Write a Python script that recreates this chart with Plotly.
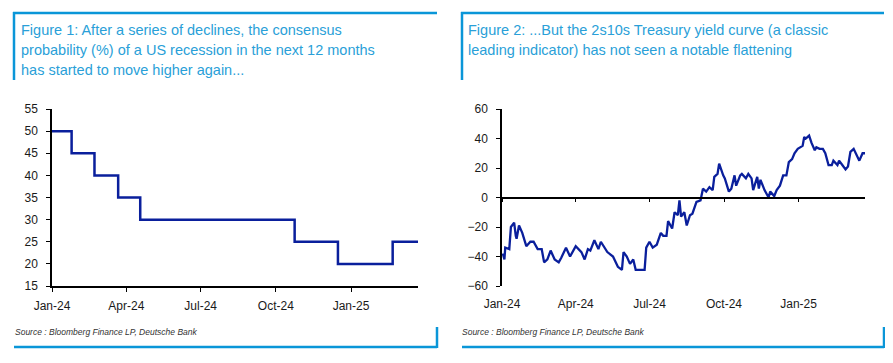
import plotly.graph_objects as go

# Page body has an 8px default margin; the figure is sized/placed to fill the 893x363 window
PAGE_W, PAGE_H, BODY_M = 893, 363, 8
W, H = PAGE_W - BODY_M, PAGE_H - BODY_M

# ---------------- Data ----------------
# Figure 1: consensus probability of US recession (%), step changes
prob_dates = ["2024-01-01", "2024-01-25", "2024-02-22", "2024-03-22", "2024-04-18",
              "2024-10-24", "2024-12-16", "2025-02-21", "2025-03-24"]
prob_values = [50, 45, 40, 35, 30, 25, 20, 25, 25]

# Figure 2: 2s10s Treasury yield curve (bp)
curve_dates = [
    "2024-01-02", "2024-01-04", "2024-01-05", "2024-01-10", "2024-01-12", "2024-01-16",
    "2024-01-18", "2024-01-19", "2024-01-22", "2024-01-26", "2024-01-31", "2024-02-05",
    "2024-02-09", "2024-02-14", "2024-02-19", "2024-02-22", "2024-02-26", "2024-03-01",
    "2024-03-06", "2024-03-11", "2024-03-14", "2024-03-20", "2024-03-25", "2024-03-28",
    "2024-04-01", "2024-04-08", "2024-04-12", "2024-04-16", "2024-04-19", "2024-04-24",
    "2024-04-29", "2024-05-02", "2024-05-07", "2024-05-10", "2024-05-17", "2024-05-23",
    "2024-05-28", "2024-05-30", "2024-06-03", "2024-06-07", "2024-06-11", "2024-06-14",
    "2024-06-21", "2024-06-25", "2024-06-27", "2024-07-01", "2024-07-05", "2024-07-10",
    "2024-07-15", "2024-07-18", "2024-07-22", "2024-07-24", "2024-07-29", "2024-08-01",
    "2024-08-05", "2024-08-07", "2024-08-09", "2024-08-13", "2024-08-16", "2024-08-20",
    "2024-08-23", "2024-08-28", "2024-09-02", "2024-09-05", "2024-09-09", "2024-09-13",
    "2024-09-17", "2024-09-19", "2024-09-23", "2024-09-25", "2024-09-30", "2024-10-02",
    "2024-10-07", "2024-10-10", "2024-10-14", "2024-10-16", "2024-10-21", "2024-10-23",
    "2024-10-28", "2024-10-31", "2024-11-04", "2024-11-06", "2024-11-11", "2024-11-13",
    "2024-11-15", "2024-11-20", "2024-11-25", "2024-11-27", "2024-12-02", "2024-12-05",
    "2024-12-09", "2024-12-13", "2024-12-17", "2024-12-20", "2024-12-24", "2024-12-27",
    "2024-12-31", "2025-01-06", "2025-01-08", "2025-01-10", "2025-01-14", "2025-01-17",
    "2025-01-21", "2025-01-23", "2025-01-27", "2025-01-31", "2025-02-03", "2025-02-07",
    "2025-02-11", "2025-02-13", "2025-02-18", "2025-02-20", "2025-02-24", "2025-02-28",
    "2025-03-03", "2025-03-06", "2025-03-10", "2025-03-14", "2025-03-17", "2025-03-21",
    "2025-03-24",
]
curve_values = [
    -38, -42, -34, -35, -20, -17,
    -26, -28, -19, -24, -33, -30,
    -30, -35, -35, -44, -42, -36,
    -42, -44, -41, -34, -40, -37,
    -33, -37, -42, -35, -36, -29,
    -35, -30, -34, -37, -40, -47,
    -49, -37, -40, -45, -42, -49,
    -49, -49, -34, -30, -34, -32,
    -24, -26, -26, -16, -21, -10,
    -12, -2, -13, -10, -19, -12,
    -11, -3, -2, 6, 4, 7,
    5, 14, 16, 23, 15, 13,
    4, 6, 15, 8, 15, 16,
    13, 16, 13, 5, 14, 6,
    12, 5, 0, 4, 1, 5,
    8, 15, 15, 24, 26, 30,
    33, 35, 41, 40, 42, 37,
    32, 34, 33, 33, 30, 22,
    22, 25, 22, 25, 22, 19,
    21, 31, 33, 29, 25, 30,
    30,
]

x_tickvals = ["2024-01-01", "2024-04-01", "2024-07-01", "2024-10-01", "2025-01-01"]
x_ticktext = ["Jan-24", "Apr-24", "Jul-24", "Oct-24", "Jan-25"]
y1_ticks = [15, 20, 25, 30, 35, 40, 45, 50, 55]
y2_ticks = [-60, -40, -20, 0, 20, 40, 60]
x_range = ["2024-01-01", "2025-03-24"]

title1 = ["Figure 1: After a series of declines, the consensus",
          "probability (%) of a US recession in the next 12 months",
          "has started to move higher again..."]
title2 = ["Figure 2: ...But the 2s10s Treasury yield curve (a classic",
          "leading indicator) has not seen a notable flattening"]
source_text = "Source : Bloomberg Finance LP, Deutsche Bank"

# ---------------- Styling ----------------
LINE_COLOR = "#0a1f9c"
DB_BLUE = "#0a96d8"
TITLE_COLOR = "#2a9fd8"
TEXT_COLOR = "#1a1a1a"
FONT = "Liberation Sans, Arial, sans-serif"


def px_x(px):
    return (px - BODY_M) / W


def px_y(py):
    return (H - (py - BODY_M)) / H


fig = go.Figure()

fig.add_trace(go.Scatter(x=prob_dates, y=prob_values, mode="lines",
                         line=dict(color=LINE_COLOR, width=2.5, shape="hv"),
                         xaxis="x", yaxis="y", showlegend=False))
fig.add_trace(go.Scatter(x=curve_dates, y=curve_values, mode="lines",
                         line=dict(color=LINE_COLOR, width=2.3),
                         xaxis="x2", yaxis="y2", showlegend=False))
# invisible trace to anchor the zero-line axis of Figure 2
fig.add_trace(go.Scatter(x=curve_dates, y=curve_values, mode="lines",
                         line=dict(width=0), opacity=0, hoverinfo="skip",
                         xaxis="x3", yaxis="y2", showlegend=False))

ydom = [px_y(286), px_y(109)]
axis_font = dict(family=FONT, size=12, color=TEXT_COLOR)

fig.update_layout(
    width=W, height=H,
    margin=dict(l=0, r=0, t=0, b=0, autoexpand=False),
    paper_bgcolor="white", plot_bgcolor="white",
    font=dict(family=FONT),
    xaxis=dict(domain=[px_x(52), px_x(418)], anchor="y", type="date", range=x_range,
               tickvals=x_tickvals, ticktext=x_ticktext, showgrid=False, zeroline=False,
               showline=True, linecolor="black", linewidth=1.5, automargin=False,
               ticks="outside", ticklen=4, tickwidth=1.2, tickcolor="black",
               tickfont=axis_font, ticklabelstandoff=4),
    yaxis=dict(domain=ydom, anchor="x", range=[15, 55], tickvals=y1_ticks,
               showgrid=False, zeroline=False, showline=True, linecolor="black",
               linewidth=1.5, ticks="outside", ticklen=4, tickwidth=1.2, automargin=False,
               tickcolor="black", tickfont=axis_font, ticklabelstandoff=6),
    xaxis2=dict(domain=[px_x(502), px_x(865)], anchor="y2", type="date", range=x_range,
                tickvals=x_tickvals, ticktext=x_ticktext, showgrid=False, zeroline=False,
                showline=False, ticks="", tickfont=axis_font, ticklabelstandoff=9,
                automargin=False),
    xaxis3=dict(overlaying="x2", anchor="free", position=(ydom[0] + ydom[1]) / 2,
                type="date", range=x_range, tickvals=x_tickvals, showticklabels=False,
                showgrid=False, zeroline=False, showline=True, linecolor="black",
                linewidth=1.5, ticks="outside", ticklen=4, tickwidth=1.2, tickcolor="black",
                automargin=False),
    yaxis2=dict(domain=ydom, anchor="x2", range=[-60, 60], tickvals=y2_ticks,
                showgrid=False, zeroline=False, showline=True, linecolor="black",
                linewidth=1.5, ticks="outside", ticklen=4, tickwidth=1.2, automargin=False,
                tickcolor="black", tickfont=axis_font, ticklabelstandoff=6),
)

annotations = []
for i, line in enumerate(title1):
    annotations.append(dict(text=line, xref="paper", yref="paper", x=px_x(19),
                            y=px_y(30 + 20 * i), xanchor="left", yanchor="middle",
                            showarrow=False,
                            font=dict(family=FONT, size=14.5, color=TITLE_COLOR)))
for i, line in enumerate(title2):
    annotations.append(dict(text=line, xref="paper", yref="paper", x=px_x(466),
                            y=px_y(30 + 20 * i), xanchor="left", yanchor="middle",
                            showarrow=False,
                            font=dict(family=FONT, size=14.5, color=TITLE_COLOR)))
for xs in (14, 461):
    annotations.append(dict(text="<i>" + source_text + "</i>", xref="paper", yref="paper",
                            x=px_x(xs - 1), y=px_y(332), xanchor="left", yanchor="middle",
                            showarrow=False,
                            font=dict(family=FONT, size=8.5, color="#333333")))
fig.update_layout(annotations=annotations)

shapes = []
frame_line = dict(color=DB_BLUE, width=2.5)
for (x0, x1) in ((13, 437), (461, 884)):
    # top rule and left bar
    shapes.append(dict(type="line", xref="paper", yref="paper", x0=px_x(x0), x1=px_x(x1),
                       y0=px_y(13), y1=px_y(13), line=frame_line))
    shapes.append(dict(type="line", xref="paper", yref="paper", x0=px_x(x0 + 1), x1=px_x(x0 + 1),
                       y0=px_y(12), y1=px_y(80), line=frame_line))
    # bottom rule and right bar
    shapes.append(dict(type="line", xref="paper", yref="paper", x0=px_x(x0 + 1), x1=px_x(x1),
                       y0=px_y(347), y1=px_y(347), line=frame_line))
    shapes.append(dict(type="line", xref="paper", yref="paper", x0=px_x(x1), x1=px_x(x1),
                       y0=px_y(327), y1=px_y(348), line=frame_line))
fig.update_layout(shapes=shapes)

fig.write_html("out.html")
